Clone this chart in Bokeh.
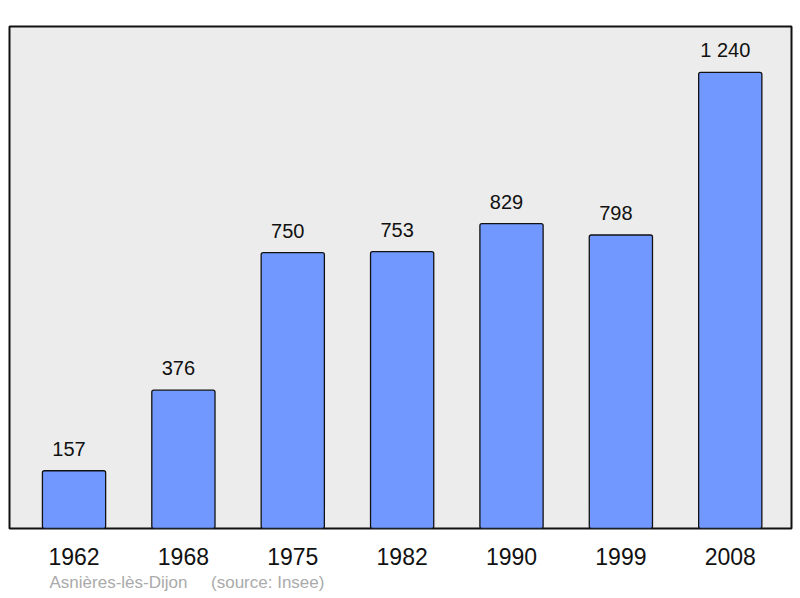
from bokeh.plotting import figure
from bokeh.models import ColumnDataSource, Range1d, Title, FixedTicker
from bokeh.core.properties import value
from bokeh.embed import file_html
from bokeh.resources import INLINE

years = ["1962", "1968", "1975", "1982", "1990", "1999", "2008"]
population = [157, 376, 750, 753, 829, 798, 1240]
value_labels = ["157", "376", "750", "753", "829", "798", "1 240"]
footer = "Asnières-lès-Dijon\u00a0\u00a0\u00a0\u00a0\u00a0(source: Insee)"

xs = list(range(len(years)))
src = ColumnDataSource(dict(x=xs, pop=population, lab=value_labels))

p = figure(frame_width=782, frame_height=502, output_backend="svg",
           toolbar_location=None,
           x_range=Range1d(-0.59, 6.56), y_range=Range1d(0, 1365),
           min_border_left=9, min_border_right=4, min_border_top=26,
           min_border_bottom=40)

p.background_fill_color = "#ececec"
p.border_fill_color = "white"
p.outline_line_color = "#111111"
p.outline_line_width = 2
p.grid.visible = False
p.yaxis.visible = False

p.vbar(x="x", top="pop", bottom=0, width=0.578, source=src,
       fill_color="#7098ff", line_color="#111111", line_width=1.3,
       border_radius=2)

p.text(x="x", y="pop", text="lab", source=src, text_align="center",
       text_baseline="alphabetic", y_offset=-22, x_offset=-5,
       text_font=value("Liberation Sans"), text_font_size="20px",
       text_color="#111111")

p.xaxis.ticker = FixedTicker(ticks=xs)
p.xaxis.major_label_overrides = {i: y for i, y in enumerate(years)}
p.xaxis.axis_line_color = None
p.xaxis.major_tick_line_color = None
p.xaxis.minor_tick_line_color = None
p.xaxis.major_label_text_font = "Liberation Sans"
p.xaxis.major_label_text_font_size = "23px"
p.xaxis.major_label_text_color = "#111111"
p.xaxis.major_label_standoff = 13

p.add_layout(Title(text=footer, text_font="Liberation Sans", text_font_size="17px",
                   text_font_style="normal", text_color="#aaaaaa", align="left",
                   offset=40, standoff=6), "below")

open("out.html", "w").write(file_html(p, INLINE))
